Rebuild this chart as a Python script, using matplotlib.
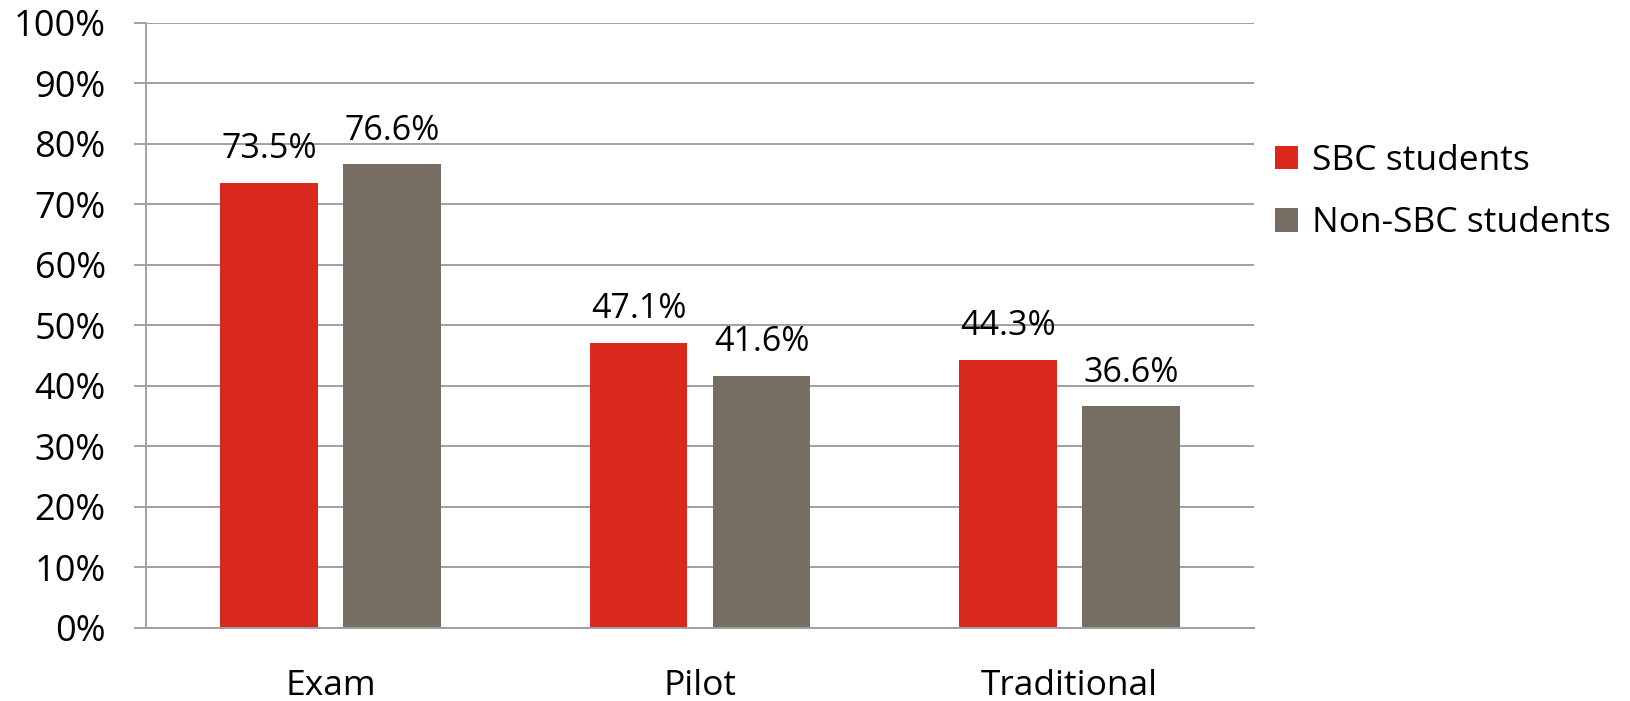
import numpy as np
import matplotlib
matplotlib.use("Agg")
import matplotlib.pyplot as plt
from matplotlib.ticker import FuncFormatter

plt.rcParams['font.family'] = ['Open Sans', 'DejaVu Sans']

# data
categories = ["Exam", "Pilot", "Traditional"]
series_names = ["SBC students", "Non-SBC students"]
sbc = [73.5, 47.1, 44.3]
non_sbc = [76.6, 41.6, 36.6]
yticks = [0, 10, 20, 30, 40, 50, 60, 70, 80, 90, 100]

colors = ["#DA291C", "#776E63"]
grid_col = "#A0A0A0"

fig = plt.figure(figsize=(16.31, 7.01), dpi=100)
ax = fig.add_axes([0.0895, 0.1046, 0.6794, 0.863])

x = np.arange(len(categories))
w = 0.265
off = w / 2 + 0.034

for vals, name, c, sgn in [(sbc, series_names[0], colors[0], -1),
                           (non_sbc, series_names[1], colors[1], 1)]:
    bars = ax.bar(x + sgn * off, vals, w, color=c, label=name, zorder=3)
    for b, v in zip(bars, vals):
        ax.annotate(f"{v:.1f}%", (b.get_x() + b.get_width() / 2, v),
                    xytext=(0, 12), textcoords="offset points",
                    ha="center", va="bottom", fontsize=24.5, color="black")

ax.set_xlim(-0.5, len(categories) - 0.5)
ax.set_ylim(0, 100)
ax.set_yticks(yticks)
ax.yaxis.set_major_formatter(FuncFormatter(lambda v, p: f"{v:.0f}%"))
ax.set_xticks(x)
ax.set_xticklabels(categories)

ax.grid(axis="y", color=grid_col, linewidth=1.4, zorder=0)
for s in ["top", "right"]:
    ax.spines[s].set_visible(False)
ax.spines["left"].set_color(grid_col)
ax.spines["left"].set_linewidth(1.4)
ax.spines["bottom"].set_color(grid_col)
ax.spines["bottom"].set_linewidth(1.4)
ax.spines["bottom"].set_zorder(4)

ax.tick_params(axis="y", length=9, width=1.4, color=grid_col, pad=20, labelsize=26)
ax.tick_params(axis="x", length=0, pad=30, labelsize=25.5)

leg = ax.legend(loc="center left", bbox_to_anchor=(0.99, 0.72), frameon=False,
                fontsize=25.5, handlelength=0.65, handleheight=0.65,
                handletextpad=0.4, labelspacing=0.8)

fig.savefig("out.png", dpi=100)
